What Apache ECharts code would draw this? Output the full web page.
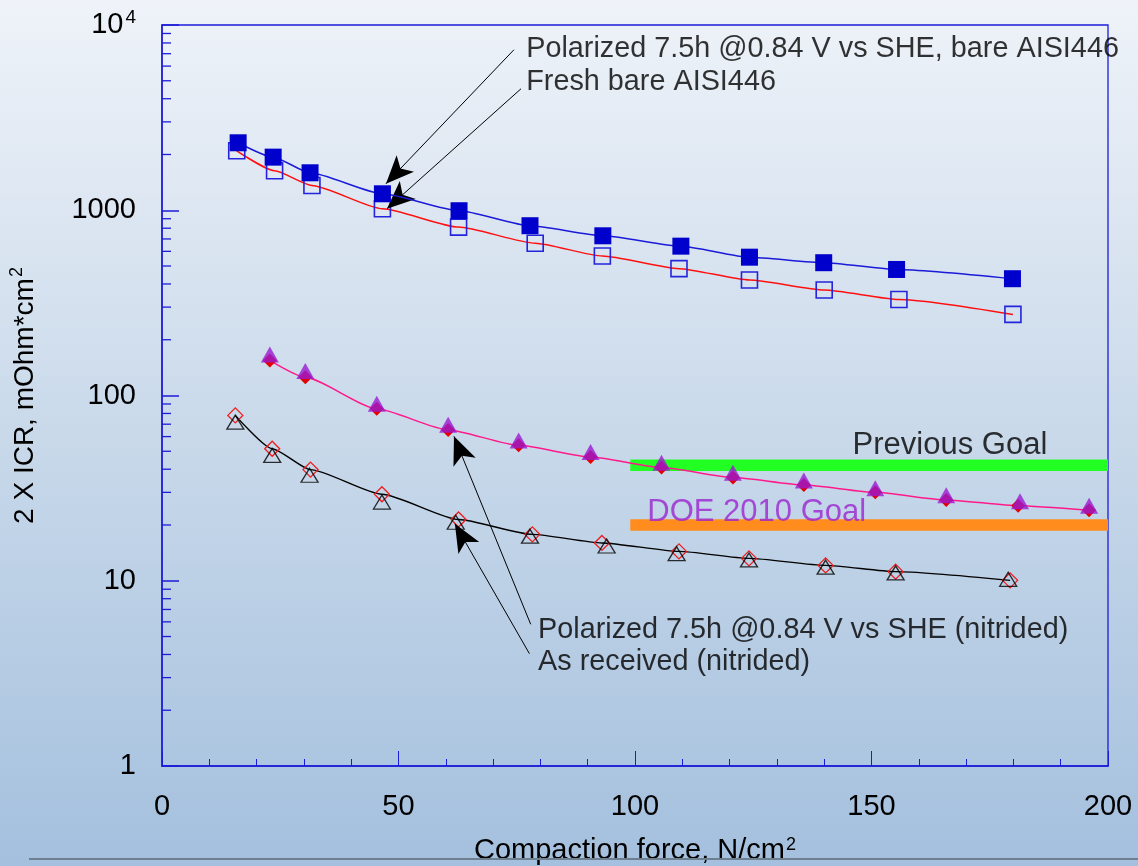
<!DOCTYPE html>
<html>
<head>
<meta charset="utf-8">
<title>Interfacial contact resistance vs compaction force</title>
<script src="https://cdn.jsdelivr.net/npm/echarts@6.0.0/dist/echarts.min.js"></script>
<style>
  html, body { margin: 0; padding: 0; }
  #chart { width: 1138px; height: 866px; }
</style>
</head>
<body>
<div id="chart"></div>
<script>
// ---- measured data: compaction force (N/cm2) and 2 x ICR (mOhm*cm2) ----
const forceBarePolarized = [16.1, 23.5, 31.3, 46.6, 62.8, 77.8, 93.2, 109.7, 124.2, 139.9, 155.3, 179.8];
const icrBarePolarized   = [2313, 1935, 1593, 1227, 994, 825, 728, 640, 558, 521, 479, 427];

const forceBareFresh = [15.8, 23.8, 31.7, 46.6, 62.7, 78.9, 93.1, 109.3, 124.2, 140.0, 155.8, 179.9];
const icrBareFresh   = [2094, 1634, 1361, 1019, 811, 664, 566, 484, 420, 371, 330, 274];

const forceNitridedPolDia = [22.8, 30.3, 45.4, 60.5, 75.4, 90.6, 105.6, 120.7, 135.7, 150.8, 165.8, 181.0, 196.0];
const icrNitridedPolDia   = [154.6, 125.3, 84.7, 65.2, 53.8, 46.6, 40.9, 36.1, 32.9, 30.0, 27.3, 25.4, 24.0];
const forceNitridedPolTri = [22.8, 30.3, 45.4, 60.5, 75.4, 90.6, 105.6, 120.7, 135.7, 150.8, 165.8, 181.4, 196.0];
const icrNitridedPolTri   = [166.7, 135.4, 90.3, 69.6, 57.2, 49.5, 43.4, 38.3, 34.8, 31.6, 28.9, 26.9, 25.4];

const forceNitridedRecDia = [15.5, 23.3, 31.4, 46.5, 62.7, 78.3, 93.0, 109.3, 124.1, 140.3, 155.1, 179.3];
const icrNitridedRecDia   = [78.1, 51.6, 39.8, 29.3, 21.4, 17.8, 16.0, 14.4, 13.2, 12.1, 11.2, 10.05];
const forceNitridedRecTri = [15.5, 23.3, 31.2, 46.5, 62.1, 77.8, 94.0, 108.8, 124.1, 140.3, 155.1, 178.9];
const icrNitridedRecTri   = [71.8, 47.5, 37.1, 26.6, 20.7, 17.4, 15.4, 14.0, 12.95, 11.84, 11.03, 10.18];

// target levels (drawn as thick bands from goalForce[0] to goalForce[1])
const goalForce = [99, 200];
const previousGoal = 42;
const doe2010Goal = 20;

// axis tick values
const xTickValues = [0, 50, 100, 150, 200];
const yDecades = [1, 10, 100, 1000, 10000];

// ---- annotations (anchor positions in data units) ----
const notes = [
  { text: 'Polarized 7.5h @0.84 V vs SHE, bare AISI446', at: [77.0, 7378], color: '#000', size: 28.8 },
  { text: 'Fresh bare AISI446', at: [77.0, 4914], color: '#000', size: 28.8 },
  { text: 'Polarized 7.5h @0.84 V vs SHE (nitrided)', at: [79.5, 5.40], color: '#000', size: 28.8 },
  { text: 'As received (nitrided)', at: [79.5, 3.65], color: '#000', size: 28.8 },
  { text: 'Previous Goal', at: [146.0, 53.8], color: '#000', size: 31 },
  { text: 'DOE 2010 Goal', at: [102.6, 23.5], color: '#9b24cf', size: 31 }
];
const arrows = [
  { from: [74.4, 7350], to: [47.35, 1390] },
  { from: [75.9, 4527], to: [47.56, 1019] },
  { from: [77.95, 5.82], to: [61.73, 60.2] },
  { from: [77.68, 4.04], to: [61.92, 20.3] }
];

const FONT = '"Liberation Sans", Arial, Helvetica, sans-serif';
const AXIS = '#1c1cd8';
const SMOOTH = 0.2;

const zip = (xs, ys) => xs.map((x, i) => [x, ys[i]]);

// log-axis minor ticks (2..9 within each decade)
const yMinorTicks = [];
for (let d = 0; d < yDecades.length - 1; d++) {
  for (let m = 2; m <= 9; m++) yMinorTicks.push([xTickValues[0], m * yDecades[d]]);
}

const chart = echarts.init(document.getElementById('chart'), null, { renderer: 'canvas' });

const supRich = {
  s: { fontSize: 18, fontFamily: FONT, color: '#000', verticalAlign: 'top', padding: [0, 0, 0, 1] }
};

const option = {
  animation: false,
  backgroundColor: {
    type: 'linear', x: 0, y: 0, x2: 0, y2: 1,
    colorStops: [
      { offset: 0, color: '#eff3f9' },
      { offset: 0.5, color: '#c9d9ea' },
      { offset: 1, color: '#a4c0de' }
    ]
  },
  textStyle: { fontFamily: FONT },
  grid: {
    left: 162, right: 30, top: 25, bottom: 100,
    show: true, borderColor: AXIS, borderWidth: 1.3,
    backgroundColor: 'transparent',
    outerBoundsMode: 'none'
  },
  xAxis: {
    type: 'value', min: 0, max: 200, interval: 50,
    axisLine: { onZero: false, lineStyle: { color: AXIS, width: 1.5 } },
    axisTick: { inside: true, length: 15, lineStyle: { color: AXIS, width: 1 } },
    minorTick: { show: true, splitNumber: 5, length: 7, lineStyle: { color: AXIS, width: 1 } },
    splitLine: { show: false },
    axisLabel: {
      color: '#000', fontSize: 29, fontFamily: FONT, margin: 26,
      showMinLabel: true, showMaxLabel: true
    },
    name: 'Compaction force, N/cm{s|2}',
    nameLocation: 'middle', nameGap: 70,
    nameTextStyle: { color: '#000', fontSize: 29, fontFamily: FONT, rich: supRich }
  },
  yAxis: {
    type: 'log', logBase: 10, min: 1, max: 10000,
    axisLine: { show: true, lineStyle: { color: AXIS, width: 1.5 } },
    axisTick: { show: true, inside: true, length: 17, lineStyle: { color: AXIS, width: 1.5 } },
    minorTick: { show: false },
    splitLine: { show: false },
    axisLabel: {
      color: '#000', fontSize: 29, fontFamily: FONT, margin: 26,
      showMinLabel: true, showMaxLabel: true,
      formatter: v => (v === 10000 ? '{b|10}{p|4}' : '{b|' + v + '}'),
      rich: {
        b: { fontSize: 29, fontFamily: FONT, color: '#000', lineHeight: 34 },
        p: { fontSize: 19, fontFamily: FONT, color: '#000', verticalAlign: 'top', padding: [0, 0, 0, 2] }
      }
    },
    name: '2 X ICR, mOhm*cm{s|2}',
    nameLocation: 'middle', nameGap: 120, nameRotate: 90,
    nameTextStyle: { color: '#000', fontSize: 28, fontFamily: FONT, lineHeight: 34, rich: supRich }
  },
  series: [
    // target bands
    {
      name: 'Previous Goal', type: 'line', data: goalForce.map(x => [x, previousGoal]),
      symbol: 'none', lineStyle: { color: '#22ff22', width: 11.5, cap: 'butt' }, silent: true, z: 1
    },
    {
      name: 'DOE 2010 Goal', type: 'line', data: goalForce.map(x => [x, doe2010Goal]),
      symbol: 'none', lineStyle: { color: '#ff8c1c', width: 11.5, cap: 'butt' }, silent: true, z: 1
    },
    // minor ticks of the logarithmic axis
    {
      type: 'custom', silent: true, z: 3,
      data: yMinorTicks,
      encode: { x: 0, y: 1 },
      renderItem: (params, api) => {
        const p = api.coord([api.value(0), api.value(1)]);
        return {
          type: 'line',
          shape: { x1: p[0], y1: p[1], x2: p[0] + 9, y2: p[1] },
          style: { stroke: AXIS, lineWidth: 1.3 }
        };
      }
    },
    // bare AISI446, fresh (open squares, red fit)
    {
      name: 'Fresh bare AISI446', type: 'line', data: zip(forceBareFresh, icrBareFresh),
      smooth: SMOOTH, smoothMonotone: 'x',
      symbol: 'rect', symbolSize: 16,
      itemStyle: { color: 'rgba(0,0,0,0)', borderColor: '#2424dc', borderWidth: 1.6 },
      lineStyle: { color: '#ff1010', width: 1.5 }, z: 4
    },
    // bare AISI446, polarized (filled squares, blue fit)
    {
      name: 'Polarized 7.5h @0.84 V vs SHE, bare AISI446', type: 'line',
      data: zip(forceBarePolarized, icrBarePolarized),
      smooth: SMOOTH, smoothMonotone: 'x',
      symbol: 'rect', symbolSize: 17,
      itemStyle: { color: '#0000cc', borderColor: '#0000cc', borderWidth: 0 },
      lineStyle: { color: '#1a1ad8', width: 1.5 }, z: 5
    },
    // nitrided, as received (open diamonds + open triangles, black fit)
    {
      name: 'As received (nitrided) A', type: 'line', data: zip(forceNitridedRecDia, icrNitridedRecDia),
      smooth: SMOOTH, smoothMonotone: 'x',
      symbol: 'diamond', symbolSize: 15,
      itemStyle: { color: 'rgba(0,0,0,0)', borderColor: '#ee1c1c', borderWidth: 1.3 },
      lineStyle: { color: '#000', width: 1.4 }, z: 4
    },
    {
      name: 'As received (nitrided) B', type: 'scatter', data: zip(forceNitridedRecTri, icrNitridedRecTri),
      symbol: 'triangle', symbolSize: [17, 14],
      itemStyle: { color: 'rgba(0,0,0,0)', borderColor: '#000', borderWidth: 1.3 }, z: 5
    },
    // nitrided, polarized (filled diamonds + filled triangles, pink fit)
    {
      name: 'Polarized 7.5h @0.84 V vs SHE (nitrided) A', type: 'line',
      data: zip(forceNitridedPolDia, icrNitridedPolDia),
      smooth: SMOOTH, smoothMonotone: 'x',
      symbol: 'diamond', symbolSize: 14,
      itemStyle: { color: '#e60000', borderWidth: 0 },
      lineStyle: { color: '#ff1a8c', width: 1.5 }, z: 4
    },
    {
      name: 'Polarized 7.5h @0.84 V vs SHE (nitrided) B', type: 'scatter',
      data: zip(forceNitridedPolTri, icrNitridedPolTri),
      symbol: 'triangle', symbolSize: [18, 16],
      itemStyle: { color: '#9a1ad2', borderWidth: 0 }, z: 5
    },
    // text callouts and arrows
    {
      name: 'notes', type: 'scatter', silent: true, z: 10,
      symbolSize: 0,
      data: notes.map(n => ({
        value: n.at, text: n.text,
        label: { color: n.color, fontSize: n.size }
      })),
      label: {
        show: true, position: 'right', distance: 0,
        fontSize: 28, fontFamily: FONT,
        formatter: p => p.data.text
      },
      markLine: {
        silent: true, animation: false,
        symbol: ['none', 'arrow'], symbolSize: [18, 28],
        lineStyle: { color: '#000', width: 1, type: 'solid' },
        label: { show: false },
        emphasis: { disabled: true },
        data: arrows.map(a => [
          { coord: a.from, symbol: 'none' },
          { coord: a.to, symbol: 'arrow' }
        ])
      }
    }
  ],
  graphic: [
    {
      type: 'line', silent: true, z: 100,
      shape: { x1: 29, y1: 859, x2: 1138, y2: 859 },
      style: { stroke: '#6e7f90', lineWidth: 2 }
    }
  ]
};

chart.setOption(option);
</script>
</body>
</html>
